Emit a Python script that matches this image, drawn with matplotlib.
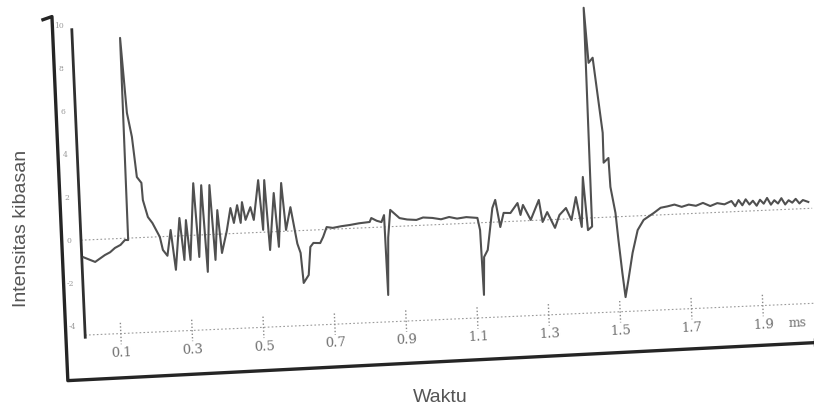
import matplotlib
matplotlib.use("Agg")
import matplotlib.pyplot as plt
import matplotlib.transforms as mtransforms

# ---------------- data (time in ms, intensity in arbitrary units) ----------------
time_ms = [
    0.005, 0.037, 0.050, 0.065, 0.080, 0.094, 0.110, 0.123, 0.132, 0.134, 0.144, 0.155,
    0.164, 0.176, 0.178, 0.190, 0.202, 0.221, 0.228,
    0.240, 0.252, 0.262, 0.278, 0.287, 0.296, 0.304, 0.321, 0.329, 0.343, 0.351, 0.366,
    0.374, 0.385, 0.393, 0.409, 0.422, 0.430, 0.441, 0.449, 0.455, 0.463, 0.478, 0.486,
    0.503, 0.511, 0.520, 0.528, 0.545, 0.553, 0.567, 0.575, 0.590, 0.598, 0.605, 0.613,
    0.618, 0.633, 0.641, 0.650, 0.669, 0.678, 0.689, 0.706, 0.730, 0.754, 0.780, 0.810,
    0.815, 0.830, 0.843, 0.851, 0.853, 0.860, 0.869, 0.894, 0.915, 0.941, 0.960, 0.986,
    1.010, 1.033, 1.055, 1.081, 1.112, 1.118, 1.121, 1.126, 1.137, 1.155, 1.164, 1.175,
    1.186, 1.205, 1.226, 1.233, 1.241, 1.261, 1.286, 1.294, 1.308, 1.328, 1.342, 1.361,
    1.375, 1.390, 1.403, 1.412, 1.420, 1.432, 1.435, 1.442, 1.454, 1.463, 1.473, 1.472,
    1.486, 1.488, 1.499, 1.504, 1.511, 1.517, 1.527, 1.542, 1.559, 1.577, 1.606, 1.626,
    1.645, 1.665, 1.685, 1.705, 1.725, 1.745, 1.765, 1.785, 1.805, 1.825, 1.835, 1.845,
    1.855, 1.865, 1.875, 1.885, 1.895, 1.905, 1.915, 1.925, 1.935, 1.945, 1.955, 1.965,
    1.975, 1.985, 1.995, 2.005, 2.015, 2.025, 2.040,
]
intensity = [
    -0.80, -1.04, -0.90, -0.74, -0.62, -0.43, -0.30, -0.08, -0.09, 9.32, 5.82, 4.70,
    2.82, 2.54, 1.74, 0.94, 0.65, -0.01, -0.62,
    -0.90, 0.29, -1.57, 0.83, -1.13, 0.72, -1.14, 2.42, -1.02, 2.31, -1.73, 2.30,
    -1.19, 1.12, -0.88, 0.13, 1.19, 0.49, 1.31, 0.48, 1.44, 0.61, 1.19, 0.59,
    2.43, 0.11, 2.42, -0.84, 1.80, -0.71, 2.25, 0.06, 1.11, 0.18, -0.60, -1.04,
    -2.44, -2.08, -0.78, -0.60, -0.62, -0.34, 0.11, 0.06, 0.12, 0.16, 0.22, 0.26,
    0.44, 0.30, 0.23, 0.55, -3.17, -0.50, 0.78, 0.38, 0.30, 0.26, 0.36, 0.32,
    0.24, 0.33, 0.24, 0.29, 0.23, -0.34, -3.36, -1.60, -1.28, 0.66, 1.03, -0.24,
    0.41, 0.39, 0.84, 0.28, 0.74, 0.03, 0.94, -0.09, 0.36, -0.39, 0.20, 0.51,
    -0.06, 1.00, -0.40, 1.92, -0.56, -0.40, 9.78, 7.21, 7.44, 5.80, 3.93, 2.54,
    2.75, 1.40, 0.18, -1.08, -2.62, -3.75, -2.96, -1.71, -0.66, -0.20, 0.10, 0.33,
    0.38, 0.45, 0.33, 0.42, 0.35, 0.47, 0.31, 0.43, 0.36, 0.50, 0.25, 0.53,
    0.28, 0.55, 0.30, 0.47, 0.23, 0.50, 0.31, 0.57, 0.25, 0.45, 0.29, 0.53,
    0.23, 0.42, 0.30, 0.47, 0.25, 0.40, 0.30,
]

x_ticks = [0.1, 0.3, 0.5, 0.7, 0.9, 1.1, 1.3, 1.5, 1.7, 1.9]
x_tick_labels = ["0.1", "0.3", "0.5", "0.7", "0.9", "1.1", "1.3", "1.5", "1.7", "1.9"]
y_ticks = [10, 8, 6, 4, 2, 0, -2, -4]
y_tick_labels = ["10", "8", "6", "4", "2", "0", "-2", "-4"]
x_unit = "ms"
x_title = "Waktu"
y_title = "Intensitas kibasan"

# ---------------- figure ----------------
W, H, DPI = 814, 417, 100
fig = plt.figure(figsize=(W / DPI, H / DPI), dpi=DPI)
fig.patch.set_facecolor("white")
ax = fig.add_axes([0, 0, 1, 1])
ax.set_xlim(-0.2269, 2.0532)
ax.set_ylim(-8.233, 11.163)
ax.axis("off")

# the scanned chart is slightly rotated
ANG = 2.5
rot = mtransforms.Affine2D().rotate_deg_around(85, 177, ANG)
tr = ax.transData + rot

base = -4.42   # dotted time baseline
x_end = 2.05

# signal
ax.plot(time_ms, intensity, color="#505050", lw=1.5, transform=tr, clip_on=False,
        solid_joinstyle="round", zorder=3)

# inner axis and dotted guides
ax.plot([0, 0], [base - 0.1, 9.8], color="#303030", lw=2.0, transform=tr, clip_on=False)
ax.plot([0, x_end], [0, 0], color="#999999", lw=0.8, ls=(0, (1.5, 2.0)), transform=tr,
        clip_on=False, zorder=1)
ax.plot([0, x_end], [base, base], color="#9a9a9a", lw=0.8, ls=(0, (1.5, 2.0)),
        transform=tr, clip_on=False, zorder=1)

for xt, lab in zip(x_ticks, x_tick_labels):
    ax.plot([xt, xt], [base + 0.5, base - 0.5], color="#8a8a8a", lw=1.0,
            ls=(0, (1.0, 1.5)), transform=tr, clip_on=False)
    ax.text(xt, base - 0.9, lab, transform=tr, ha="center", va="center",
            fontsize=9.5, family="DejaVu Serif", color="#707070", rotation=ANG,
            rotation_mode="anchor")
ax.text(x_ticks[-1] + 0.07, base - 0.9, x_unit, transform=tr, ha="left", va="center",
        fontsize=9, family="DejaVu Serif", color="#707070", rotation=ANG,
        rotation_mode="anchor")

for yt, lab in zip(y_ticks, y_tick_labels):
    ax.text(-0.035, yt, lab, transform=tr, ha="center", va="center",
            fontsize=5.5, family="DejaVu Serif", color="#9a9a9a")

# outer frame with arrow
frame_x0, frame_y0 = -0.054, -6.5
ax.plot([frame_x0 - 0.03, frame_x0, frame_x0, x_end - 0.01],
        [10.3, 10.45, frame_y0, frame_y0 + 0.25],
        color="#252525", lw=2.4, transform=tr, clip_on=False, solid_capstyle="butt")
ax.plot([x_end], [frame_y0 + 0.26], marker=">", ms=6, color="#252525",
        transform=tr, clip_on=False)

# axis titles
fig.text(440 / W, 1 - 398 / H, x_title, ha="center", va="center", fontsize=14,
         family="Liberation Sans", color="#555555")
fig.text(22 / W, 1 - 228 / H, y_title, ha="center", va="center", fontsize=14,
         family="Liberation Sans", color="#555555", rotation=90)

fig.savefig("out.png", dpi=DPI, facecolor="white")
